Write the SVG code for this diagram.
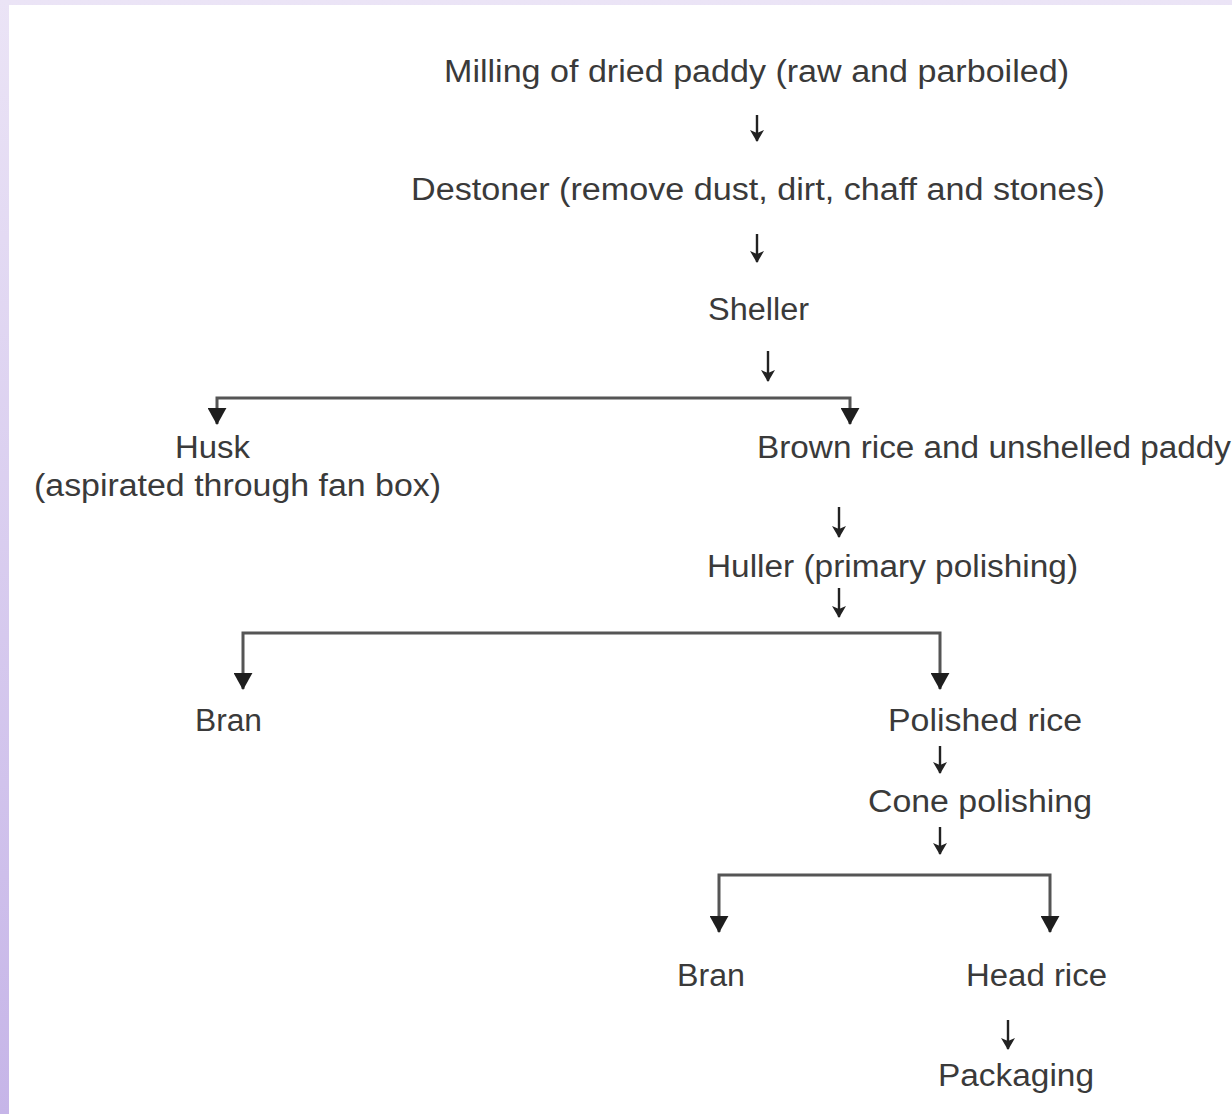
<svg xmlns="http://www.w3.org/2000/svg" width="1232" height="1114" viewBox="0 0 1232 1114">
  <defs>
    <linearGradient id="lav" x1="0" y1="0" x2="0" y2="1">
      <stop offset="0" stop-color="#ebe4f6"/>
      <stop offset="1" stop-color="#c6b5e8"/>
    </linearGradient>
    <marker id="big" viewBox="0 0 18 20" refX="17" refY="10" markerWidth="17" markerHeight="19" markerUnits="userSpaceOnUse" orient="auto-start-reverse">
      <path d="M0,0 L18,10 L0,20 z" fill="#1e1e1e"/>
    </marker>
    <marker id="small" viewBox="0 0 12 14" refX="11" refY="7" markerWidth="12" markerHeight="14" markerUnits="userSpaceOnUse" orient="auto">
      <path d="M0,0 L12,7 L0,14 L3,7 z" fill="#222"/>
    </marker>
    <style>
      .t { font-family: "Liberation Sans", Arial, sans-serif; font-size: 31px; fill: #3a3a3a; text-anchor: middle; }
      .br { fill: none; stroke: #555; stroke-width: 3; marker-start: url(#big); marker-end: url(#big); }
      .dn { fill: none; stroke: #222; stroke-width: 2.4; marker-end: url(#small); }
    </style>
  </defs>

  <rect x="0" y="0" width="1232" height="1114" fill="url(#lav)"/>
  <rect x="9" y="5" width="1223" height="1109" fill="#ffffff"/>

  <g id="connectors">
    <path class="dn" d="M757,115 V141"/>
    <path class="dn" d="M757,234 V262"/>
    <path class="dn" d="M768,351 V381"/>
    <path class="dn" d="M839,507 V537"/>
    <path class="dn" d="M839,588 V617"/>
    <path class="dn" d="M940,746 V773"/>
    <path class="dn" d="M940,827 V854"/>
    <path class="dn" d="M1008,1020 V1049"/>
    <path class="br" d="M217,424 V398 H850 V424"/>
    <path class="br" d="M243,689 V633 H940 V689"/>
    <path class="br" d="M719,932 V875 H1050 V932"/>
  </g>

  <g id="milling"><text class="t" x="756.5" y="82" textLength="625" lengthAdjust="spacingAndGlyphs">Milling of dried paddy (raw and parboiled)</text></g>
  <g id="destoner"><text class="t" x="758" y="200" textLength="694" lengthAdjust="spacingAndGlyphs">Destoner (remove dust, dirt, chaff and stones)</text></g>
  <g id="sheller"><text class="t" x="758.5" y="320" textLength="101" lengthAdjust="spacingAndGlyphs">Sheller</text></g>
  <g id="husk">
    <text class="t" x="212.5" y="458" textLength="75" lengthAdjust="spacingAndGlyphs">Husk</text>
    <text class="t" x="237.5" y="496" textLength="407" lengthAdjust="spacingAndGlyphs">(aspirated through fan box)</text>
  </g>
  <g id="brown-rice"><text class="t" x="994" y="458" textLength="474" lengthAdjust="spacingAndGlyphs">Brown rice and unshelled paddy</text></g>
  <g id="huller"><text class="t" x="892.5" y="577" textLength="371" lengthAdjust="spacingAndGlyphs">Huller (primary polishing)</text></g>
  <g id="bran-1"><text class="t" x="228.5" y="731" textLength="67" lengthAdjust="spacingAndGlyphs">Bran</text></g>
  <g id="polished-rice"><text class="t" x="985" y="731" textLength="194" lengthAdjust="spacingAndGlyphs">Polished rice</text></g>
  <g id="cone-polishing"><text class="t" x="980" y="812" textLength="224" lengthAdjust="spacingAndGlyphs">Cone polishing</text></g>
  <g id="bran-2"><text class="t" x="711" y="986" textLength="68" lengthAdjust="spacingAndGlyphs">Bran</text></g>
  <g id="head-rice"><text class="t" x="1036.5" y="986" textLength="141" lengthAdjust="spacingAndGlyphs">Head rice</text></g>
  <g id="packaging"><text class="t" x="1016" y="1086" textLength="156" lengthAdjust="spacingAndGlyphs">Packaging</text></g>
</svg>
